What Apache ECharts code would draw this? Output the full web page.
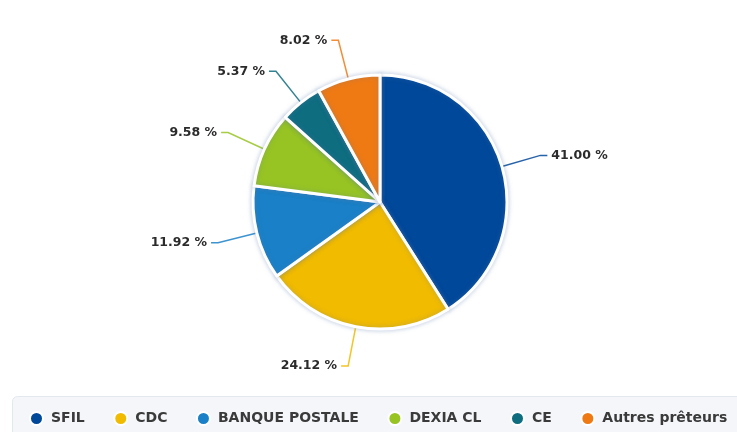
<!DOCTYPE html>
<html>
<head>
<meta charset="utf-8">
<script src="https://cdn.jsdelivr.net/npm/echarts@6/dist/echarts.min.js"></script>
<style>
  html, body { margin: 0; padding: 0; background: #fff; }
  #chart { width: 737px; height: 432px; }
</style>
</head>
<body>
<div id="chart"></div>
<script>
// répartition de l'encours par prêteur
const lenders = ["SFIL", "CDC", "BANQUE POSTALE", "DEXIA CL", "CE", "Autres prêteurs"];
const shares = [41.0, 24.12, 11.92, 9.58, 5.37, 8.02];
const colors = ["#00489a", "#f1bb00", "#1a80c7", "#97c423", "#0f6d80", "#ef7a14"];

const chart = echarts.init(document.getElementById("chart"));

const pieData = lenders.map((name, i) => {
  return {
    name: name,
    value: shares[i],
    itemStyle: { color: colors[i] },
    labelLine: { lineStyle: { color: colors[i], opacity: 0.85 } },
  };
});

chart.setOption({
  animation: false,
  color: colors,
  graphic: [
    {
      type: "rect",
      left: 12,
      top: 396,
      shape: { width: 740, height: 50, r: 5 },
      style: { fill: "#f4f6fa", stroke: "#e3e7ee", lineWidth: 1 },
      z: -1,
    },
  ],
  legend: {
    left: 24,
    top: 406,
    icon: "circle",
    itemWidth: 13,
    itemHeight: 13,
    itemGap: 28.5,
    textStyle: {
      fontFamily: "DejaVu Sans",
      fontSize: 14,
      fontWeight: "bold",
      color: "#3a3a3a",
      padding: [0, 0, 0, 3],
    },
    data: lenders,
  },
  series: [
    {
      type: "pie",
      center: [380, 202],
      radius: [0, 127],
      startAngle: 90,
      clockwise: true,
      itemStyle: {
        borderColor: "#fff",
        borderWidth: 3,
        shadowBlur: 5,
        shadowColor: "rgba(90,120,170,0.35)",
      },
      label: {
        show: true,
        formatter: (p) => p.value.toFixed(2) + " %",
        fontFamily: "DejaVu Sans",
        fontSize: 12.5,
        fontWeight: "bold",
        color: "#2b2b2b",
        distanceToLabelLine: 4,
      },
      labelLine: {
        show: true,
        length: 40,
        length2: 7,
        smooth: false,
        lineStyle: { width: 1.5 },
      },
      emphasis: { disabled: true },
      data: pieData,
    },
  ],
});
</script>
</body>
</html>
